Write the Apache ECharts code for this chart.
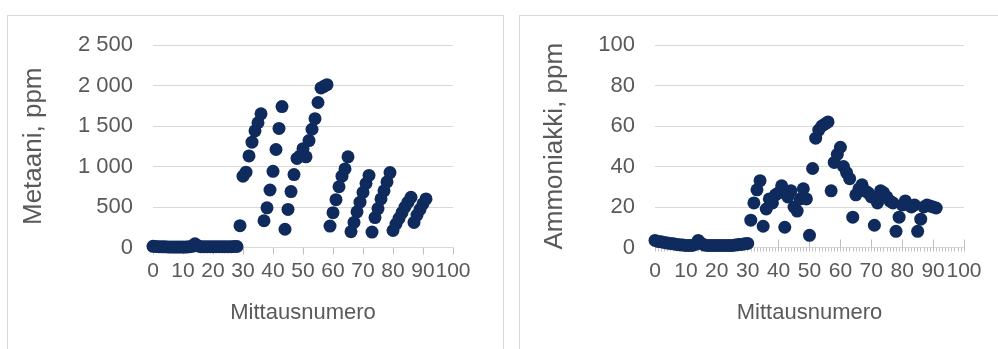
<!DOCTYPE html>
<html>
<head>
<meta charset="utf-8">
<script src="https://cdn.jsdelivr.net/npm/echarts@6/dist/echarts.min.js"></script>
<style>
  html, body { margin: 0; padding: 0; background: #ffffff; width: 998px; height: 349px; overflow: hidden; }
  .panel { position: absolute; border: 1px solid #d9d9d9; background: #ffffff; box-sizing: border-box; }
  #left { left: 7px; top: 15px; width: 497px; height: 360px; }
  #right { left: 519px; top: 15px; width: 492px; height: 360px; }
</style>
</head>
<body>
<div id="left" class="panel"></div>
<div id="right" class="panel"></div>
<script>
// Methane readings (ppm), one per measurement, starting from measurement 0
const methane = [
  15, 12, 10, 8, 8, 6, 5, 5, 5, 5, 5, 5, 8, 15, 45, 20, 10, 10, 10, 10,
  10, 10, 10, 10, 10, 10, 10, 12, 12,
  270, 880, 930, 1130, 1300, 1440, 1540, 1650,
  330, 490, 710, 940, 1210, 1470, 1740,
  225, 470, 690, 900, 1100, 1130, 1220, 1120, 1320, 1460, 1590, 1790, 1970, 1990, 2010,
  265, 430, 590, 750, 880, 970, 1120,
  195, 310, 440, 560, 680, 790, 890,
  190, 370, 480, 600, 700, 810, 925,
  210, 290, 360, 430, 500, 560, 620,
  310, 400, 470, 540, 600
];

// Ammonia readings (ppm), one per measurement, starting from measurement 0
const ammonia = [
  3.5, 3, 2.8, 2.5, 2.2, 2, 1.8, 1.5, 1.3, 1.2, 1, 1, 1, 1.5, 3.5, 2, 1.2, 1, 1, 1,
  1, 1, 1, 1, 1, 1, 1.2, 1.5, 1.5, 1.8, 2,
  13.5, 22, 28.5, 33, 10.5, 19, 24, 22, 26, 27, 30.5, 10, 25, 28, 20, 18, 24, 29, 24,
  6, 39, 54, 58, 60, 61, 62,
  28, 42, 46, 49.5, 40, 37, 34, 15, 26, 29, 31, 28, 27, 25, 11, 22, 28, 27, 25, 23, 22,
  8, 15, 21, 23, 21, 20, 21, 8, 14, 20, 21, 20.5, 20, 19.5
];

const xTicks = { min: 0, max: 100, interval: 10 };
const methaneTicks = { min: 0, max: 2500, interval: 500 };
const ammoniaTicks = { min: 0, max: 100, interval: 20 };

const xTitle = 'Mittausnumero';
const methaneTitle = 'Metaani, ppm';
const ammoniaTitle = 'Ammoniakki, ppm';

const FONT = '"Liberation Sans", Arial, sans-serif';
const TEXT = '#595959';
const GRID = '#d9d9d9';
const TICK = '#bfbfbf';
const DOT = '#0f2a5c';

function toPoints(values) {
  return values.map((v, i) => [i, v]);
}

function thousands(v) {
  return String(v).replace(/\B(?=(\d{3})+(?!\d))/g, ' ');
}

function buildOption(values, yTicks, yTitle, layout, minor) {
  const xAxes = [{
    type: 'value',
    min: xTicks.min, max: xTicks.max, interval: xTicks.interval,
    name: xTitle, nameLocation: 'middle', nameGap: layout.xNameGap,
    nameTextStyle: { color: TEXT, fontFamily: FONT, fontSize: 22 },
    axisLine: { show: true, onZero: false, lineStyle: { color: GRID, width: 1 } },
    axisTick: { show: true, length: minor ? 4 : 7, lineStyle: { color: TICK, width: 1 } },
    minorTick: { show: minor, splitNumber: 10, length: 4, lineStyle: { color: TICK, width: 1 } },
    splitLine: { show: false },
    axisLabel: { color: TEXT, fontFamily: FONT, fontSize: 21, margin: 13,
      hideOverlap: false, showMinLabel: true, showMaxLabel: true }
  }];
  if (minor) {
    // Major ticks cross the axis line: add an inward tick layer on top
    xAxes.push({
      type: 'value',
      min: xTicks.min, max: xTicks.max, interval: xTicks.interval,
      position: 'bottom',
      axisLine: { show: false, onZero: false },
      axisTick: { show: true, inside: true, length: 8, lineStyle: { color: TICK, width: 1 } },
      axisLabel: { show: false },
      splitLine: { show: false }
    });
  }
  return {
    animation: false,
    grid: { left: layout.left, right: layout.right, top: 29, height: 202.5 },
    xAxis: xAxes,
    yAxis: {
      type: 'value',
      min: yTicks.min, max: yTicks.max, interval: yTicks.interval,
      name: yTitle, nameLocation: 'middle', nameGap: layout.yNameGap,
      nameTextStyle: { color: TEXT, fontFamily: FONT, fontSize: 26 },
      axisLine: { show: false },
      axisTick: { show: false },
      splitLine: { show: true, lineStyle: { color: GRID, width: 1 } },
      axisLabel: { color: TEXT, fontFamily: FONT, fontSize: 22, margin: 20, formatter: thousands }
    },
    series: [{
      type: 'scatter',
      xAxisIndex: 0,
      data: toPoints(values),
      symbol: 'circle',
      symbolSize: 13,
      itemStyle: { color: DOT, opacity: 1 }
    }]
  };
}

const leftChart = echarts.init(document.getElementById('left'), null, { renderer: 'canvas' });
leftChart.setOption(buildOption(methane, methaneTicks, methaneTitle,
  { left: 145, right: 50, xNameGap: 54, yNameGap: 106 }, false));

const rightChart = echarts.init(document.getElementById('right'), null, { renderer: 'canvas' });
rightChart.setOption(buildOption(ammonia, ammoniaTicks, ammoniaTitle,
  { left: 135, right: 46, xNameGap: 54, yNameGap: 87 }, true));
</script>
</body>
</html>
